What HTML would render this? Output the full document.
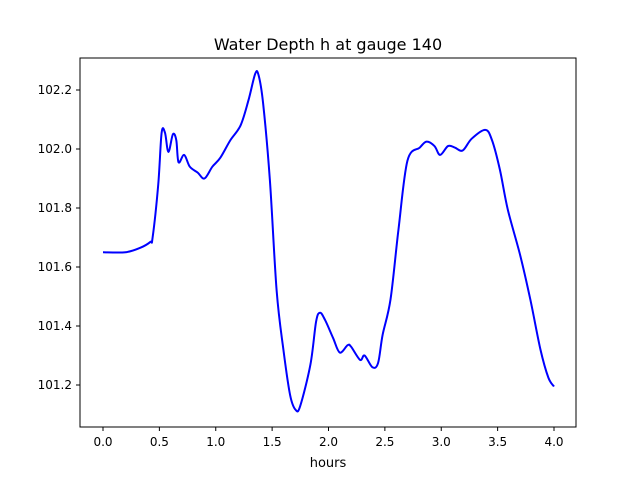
<!DOCTYPE html>
<html><head><meta charset="utf-8"><style>
body{margin:0;background:#fff;font-family:"DejaVu Sans","Liberation Sans",sans-serif;}
svg text{font-family:"DejaVu Sans","Liberation Sans",sans-serif;}
</style></head><body>
<svg id="chart" width="640" height="480" xmlns="http://www.w3.org/2000/svg">
<rect width="640" height="480" fill="#fff"/>
<text x="328" y="50" font-size="16" text-anchor="middle" fill="#000">Water Depth h at gauge 140</text>
<g id="xt"></g><g id="yt"></g>
<path id="line" fill="none" stroke="#0000ff" stroke-width="2"/>
<rect x="80" y="58" width="496" height="369" fill="none" stroke="#000" stroke-width="1"/>
<text x="328" y="467" font-size="13" text-anchor="middle">hours</text>
</svg>
<script>
const hours=[0,0.2,0.33,0.42,0.44,0.49,0.52,0.55,0.58,0.62,0.65,0.67,0.72,0.77,0.84,0.9,0.97,1.04,1.13,1.22,1.29,1.35,1.38,1.42,1.48,1.54,1.6,1.66,1.71,1.75,1.84,1.89,1.925,1.97,2.04,2.1,2.17,2.2,2.28,2.32,2.39,2.44,2.48,2.55,2.62,2.7,2.81,2.87,2.94,2.99,3.06,3.12,3.19,3.27,3.39,3.45,3.52,3.59,3.7,3.79,3.88,3.95,4.0];
const depth=[101.65,101.65,101.665,101.685,101.70,101.88,102.055,102.055,101.99,102.05,102.03,101.955,101.98,101.94,101.92,101.90,101.94,101.97,102.03,102.08,102.165,102.255,102.25,102.155,101.895,101.52,101.32,101.165,101.115,101.13,101.27,101.415,101.445,101.42,101.36,101.31,101.335,101.33,101.285,101.30,101.26,101.275,101.37,101.49,101.725,101.96,102.005,102.025,102.01,101.98,102.01,102.005,101.995,102.035,102.065,102.03,101.93,101.795,101.64,101.49,101.32,101.225,101.195];
const xTicks=[0,0.5,1,1.5,2,2.5,3,3.5,4];
const yTicks=[101.2,101.4,101.6,101.8,102.0,102.2];
const X=h=>103+h*112.75;
const Y=v=>90+(102.2-v)*295;
const ns="http://www.w3.org/2000/svg";
const xt=document.getElementById('xt'),yt=document.getElementById('yt');
xTicks.forEach(t=>{
 const l=document.createElementNS(ns,'line');
 
 
 l.setAttribute('x1',X(t));l.setAttribute('x2',X(t));l.setAttribute('y1',427);l.setAttribute('y2',431);l.setAttribute('stroke','#000');
 xt.appendChild(l);
 const s=document.createElementNS(ns,'text');
 
 
 s.setAttribute('x',X(t));s.setAttribute('y',446);s.setAttribute('font-size','12');s.setAttribute('text-anchor','middle');
 s.textContent=t.toFixed(1);xt.appendChild(s);
});
yTicks.forEach(t=>{
 const l=document.createElementNS(ns,'line');
 
 
 l.setAttribute('x1',76);l.setAttribute('x2',80);l.setAttribute('y1',Y(t));l.setAttribute('y2',Y(t));l.setAttribute('stroke','#000');
 yt.appendChild(l);
 const s=document.createElementNS(ns,'text');
 
 
 s.setAttribute('x',72);s.setAttribute('y',Y(t)+4);s.setAttribute('font-size','12');s.setAttribute('text-anchor','end');
 s.textContent=t.toFixed(1);yt.appendChild(s);
});
const P=hours.map((h,i)=>[X(h),Y(depth[i])]);
let d='M'+P[0][0]+','+P[0][1];
for(let i=0;i<P.length-1;i++){
 const p0=P[Math.max(0,i-1)],p1=P[i],p2=P[i+1],p3=P[Math.min(P.length-1,i+2)];
 const c1=[p1[0]+(p2[0]-p0[0])/6,p1[1]+(p2[1]-p0[1])/6];
 const c2=[p2[0]-(p3[0]-p1[0])/6,p2[1]-(p3[1]-p1[1])/6];
 d+=` C${c1[0]},${c1[1]} ${c2[0]},${c2[1]} ${p2[0]},${p2[1]}`;
}
document.getElementById('line').setAttribute('d',d);
</script>
</body></html>
